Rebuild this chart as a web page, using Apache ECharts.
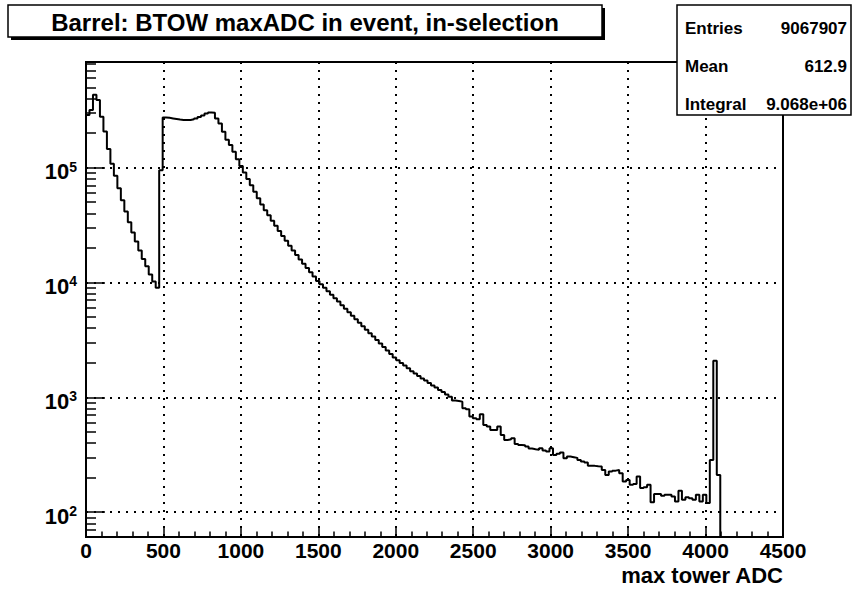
<!DOCTYPE html>
<html><head><meta charset="utf-8">
<script src="https://cdn.jsdelivr.net/npm/echarts@6/dist/echarts.min.js"></script>
<style>html,body{margin:0;padding:0;background:#fff}#c{width:852px;height:595px}</style>
</head><body><div id="c"></div>
<script>
// histogram: 200 bins of 22.5 ADC over 0..4500, bins beyond 4095 empty
const binWidth = 22.5;
const counts = [
 287000,317000,430000,388000,277000,206000,145000,108000,85000,66000,
 52000,41500,33500,27200,22700,19000,16000,13800,11700,10200,
 9000,95000,273000,271000,268000,265000,262000,260000,259000,260000,
 263000,268000,275000,284000,295000,302000,300000,267000,242000,205000,
 175000,157000,137000,118000,103000,90600,79600,70000,61500,54100,
 47600,42600,38400,34500,31100,28000,25400,23100,20900,19000,
 17300,15850,14550,13340,12240,11240,10300,9640,8990,8390,
 7830,7300,6810,6320,5900,5500,5130,4790,4460,4160,
 3880,3620,3380,3150,2940,2740,2560,2380,2220,2100,
 1990,1890,1790,1690,1610,1530,1460,1400,1330,1270,
 1220,1160,1110,1060,1010,936,930,917,802,787,
 680,657,644,711,574,556,520,520,556,470,
 425,431,440,393,385,383,373,358,353,349,
 360,344,337,360,315,322,330,295,305,301,
 297,285,276,271,253,253,251,250,233,211,
 226,230,233,218,185,191,173,176,204,162,
 165,173,122,144,144,139,142,142,137,124,
 154,128,135,132,128,142,124,142,120,285,
 2080,211
];
const xMin = 0, xMax = 4500, xStep = 500;
const yMin = 60.8, yMax = 830000;
const yMajor = [100, 1000, 10000, 100000];
const yMinor = [70,80,90,200,300,400,500,600,700,800,900,2000,3000,4000,5000,6000,7000,8000,9000,
  20000,30000,40000,50000,60000,70000,80000,90000,200000,300000,400000,500000,600000,700000,800000];
const titleText = 'Barrel: BTOW maxADC in event, in-selection';
const xTitle = 'max tower ADC';
const statNames = ['Entries', 'Mean', 'Integral'];
const statValues = ['9067907', '612.9', '9.068e+06'];

const FONT = 'Liberation Sans, Arial, Helvetica, sans-serif';
const histData = counts.map((v, k) => [k * binWidth, v]);
histData.push([counts.length * binWidth, counts[counts.length - 1]]);
histData.push([counts.length * binWidth, yMin]);

const dotted = { color: '#000', width: 2, type: [2, 6] };
const chart = echarts.init(document.getElementById('c'), null, { renderer: 'svg' });

const graphics = [
  { type: 'rect', shape: { x: 11, y: 8, width: 594, height: 32 }, style: { fill: '#000' }, z: 10 },
  { type: 'rect', shape: { x: 8, y: 5, width: 594, height: 32 }, style: { fill: '#fff', stroke: '#000', lineWidth: 1.5 }, z: 11 },
  { type: 'text', x: 305, y: 22, z: 12, style: { text: titleText, fontSize: 24, fontWeight: 'bold', fontFamily: FONT, fill: '#000', align: 'center', verticalAlign: 'middle' } },
  { type: 'rect', shape: { x: 677, y: 5, width: 174, height: 110 }, style: { fill: '#fff', stroke: '#000', lineWidth: 1.5 }, z: 11 },
  { type: 'text', x: 783, y: 575, z: 12, style: { text: xTitle, fontSize: 22, fontWeight: 'bold', fontFamily: FONT, fill: '#000', align: 'right', verticalAlign: 'middle' } }
];
statNames.forEach((n, i) => {
  const y = 28 + i * 38;
  graphics.push({ type: 'text', x: 685, y: y, z: 12, style: { text: n, fontSize: 17, fontWeight: 'bold', fontFamily: FONT, fill: '#000', align: 'left', verticalAlign: 'middle' } });
  graphics.push({ type: 'text', x: 847, y: y, z: 12, style: { text: statValues[i], fontSize: 17, fontWeight: 'bold', fontFamily: FONT, fill: '#000', align: 'right', verticalAlign: 'middle' } });
});

chart.setOption({
  animation: false,
  backgroundColor: '#fff',
  grid: { left: 86, right: 69, top: 62, bottom: 58, show: true, borderColor: '#000', borderWidth: 2, backgroundColor: 'transparent' },
  xAxis: {
    type: 'value', min: xMin, max: xMax, interval: xStep,
    axisLine: { show: true, onZero: false, lineStyle: { color: '#000', width: 2 } },
    axisTick: { show: true, inside: true, length: 11, lineStyle: { color: '#000', width: 1.5 } },
    minorTick: { show: true, splitNumber: 5, length: 5.5, lineStyle: { color: '#000', width: 1.5 } },
    axisLabel: { color: '#000', fontSize: 21, fontWeight: 'bold', fontFamily: FONT, margin: 3, showMinLabel: true, showMaxLabel: true, formatter: v => String(v) },
    splitLine: { show: true, lineStyle: dotted }
  },
  yAxis: [{
    type: 'log', logBase: 10, min: yMin, max: yMax,
    axisLine: { show: true, lineStyle: { color: '#000', width: 2 } },
    axisTick: { show: true, inside: true, length: 19, customValues: yMajor, lineStyle: { color: '#000', width: 1.5 } },
    axisLabel: {
      customValues: yMajor, margin: 9, color: '#000', padding: [8, 0, 0, 0],
      formatter: v => '{b|10}{s|' + Math.round(Math.log10(v)) + '}',
      rich: {
        b: { fontSize: 22, fontWeight: 'bold', fontFamily: FONT, color: '#000', lineHeight: 24 },
        s: { fontSize: 14, fontWeight: 'bold', fontFamily: FONT, color: '#000', verticalAlign: 'top', lineHeight: 24 }
      }
    },
    splitLine: { show: true, lineStyle: dotted }
  }, {
    type: 'log', logBase: 10, min: yMin, max: yMax, position: 'left',
    axisLine: { show: false },
    axisTick: { show: true, inside: true, length: 10, customValues: yMinor, lineStyle: { color: '#000', width: 1.5 } },
    axisLabel: { show: false },
    splitLine: { show: false }
  }],
  series: [{
    type: 'line', step: 'end', data: histData, showSymbol: false, symbol: 'none',
    lineStyle: { color: '#000', width: 2 }, clip: true, z: 5
  }],
  graphic: graphics
});
</script></body></html>
